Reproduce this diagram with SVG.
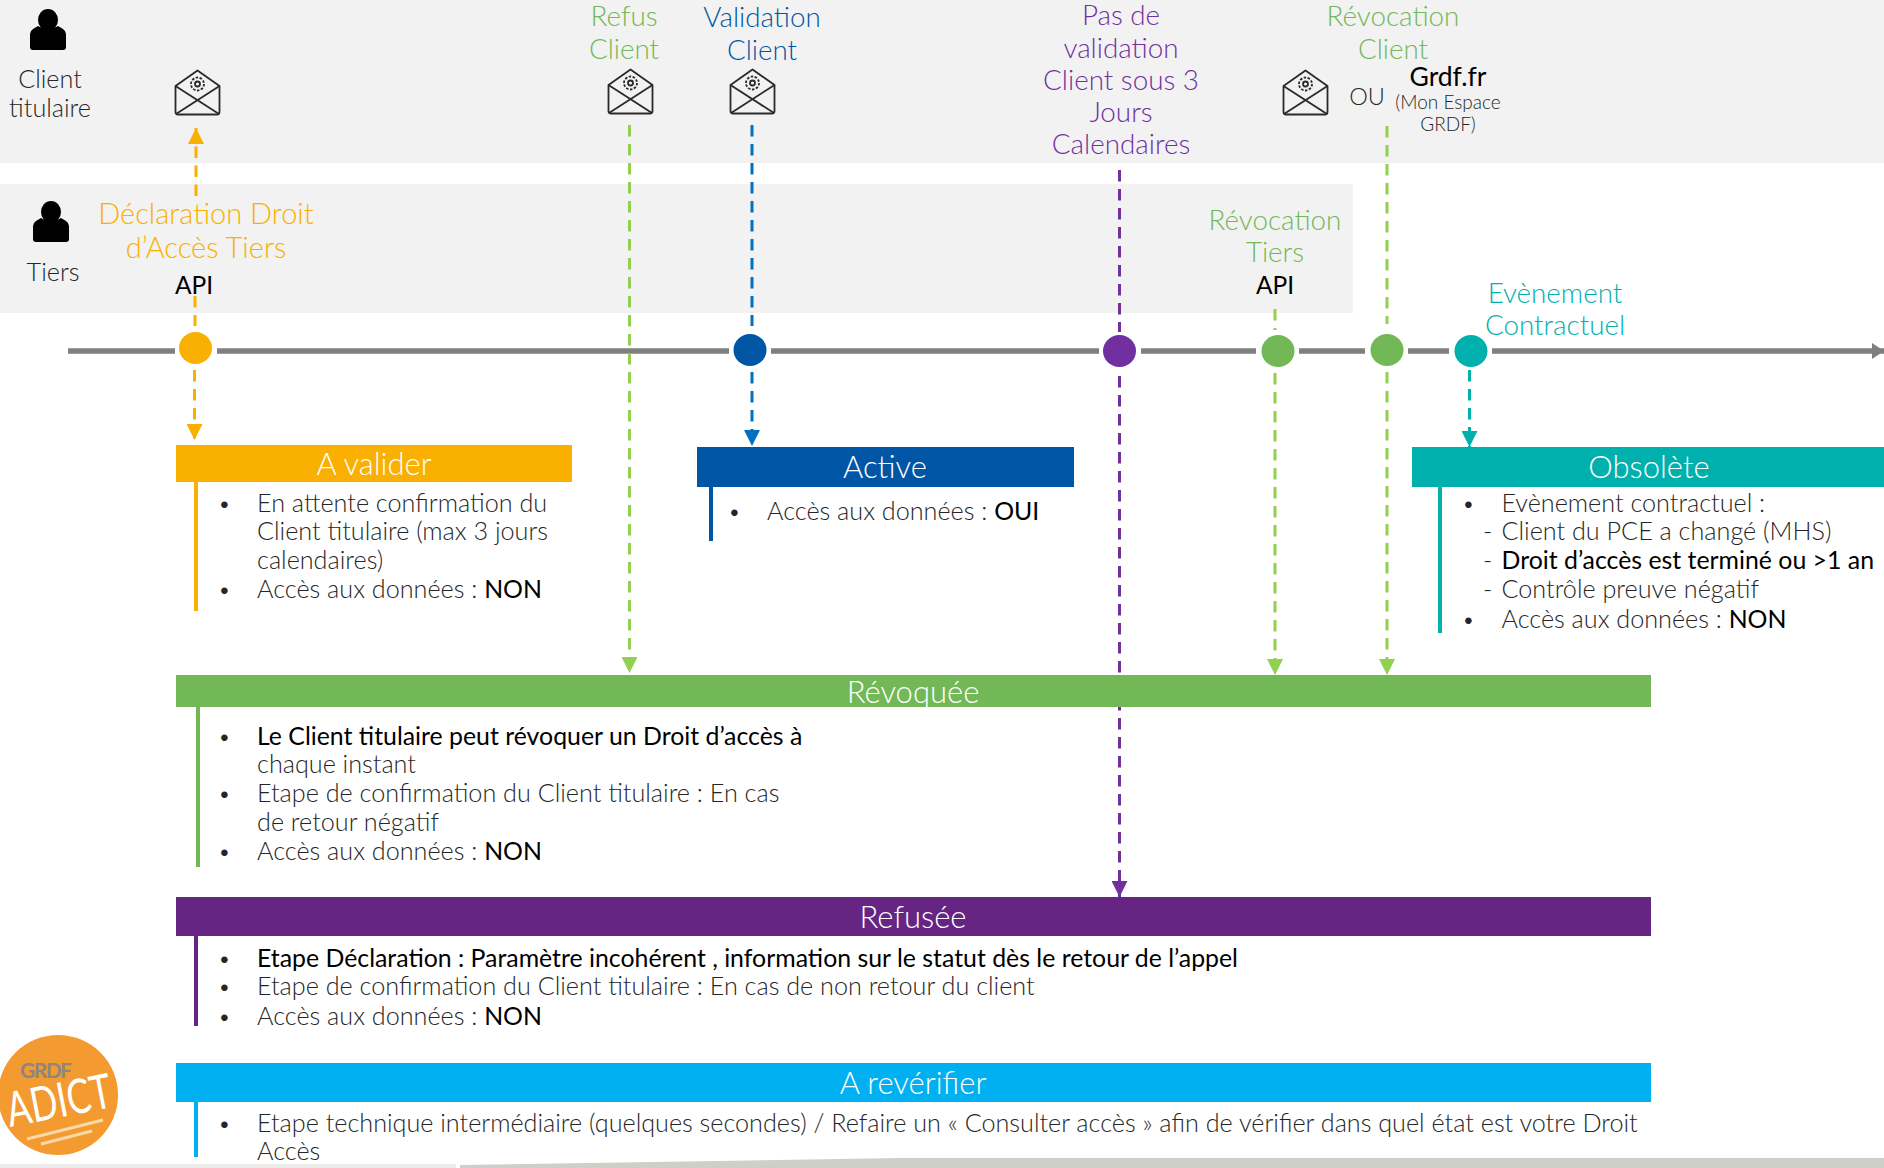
<svg xmlns="http://www.w3.org/2000/svg" width="1884" height="1168" viewBox="0 0 1884 1168">
<style>
text{font-family:"Lato","Open Sans","Liberation Sans",sans-serif;font-weight:300;font-size:25.2px;fill:#262626}
.c{text-anchor:middle}
.lab{font-size:27.8px}
.big{font-size:29px}
.hd{font-size:31px;fill:#fff;text-anchor:middle}
.k{fill:#000;font-weight:400;font-size:24.5px}
.b{fill:#000;font-weight:400;font-size:24.85px}
.dot{font-size:22px}
.s{font-size:19px}
.d{fill:none;stroke-width:3;stroke-dasharray:11.5 7.5}
.ya{fill:#f9b000}.bl{fill:#0055a4}.pu{fill:#7030a0}.gr{fill:#72b857}.te{fill:#00b0ad}
.env{fill:none;stroke:#2a2a2a;stroke-width:1.8;stroke-linejoin:round}
</style>
<defs>
<marker id="aY" markerUnits="userSpaceOnUse" markerWidth="16" markerHeight="16" refX="16" refY="8" orient="auto"><path d="M0 0L16 8L0 16z" fill="#f9b000"/></marker>
<marker id="aG" markerUnits="userSpaceOnUse" markerWidth="16" markerHeight="16" refX="16" refY="8" orient="auto"><path d="M0 0L16 8L0 16z" fill="#92d050"/></marker>
<marker id="aB" markerUnits="userSpaceOnUse" markerWidth="16" markerHeight="16" refX="16" refY="8" orient="auto"><path d="M0 0L16 8L0 16z" fill="#0070c0"/></marker>
<marker id="aP" markerUnits="userSpaceOnUse" markerWidth="16" markerHeight="16" refX="16" refY="8" orient="auto"><path d="M0 0L16 8L0 16z" fill="#7030a0"/></marker>
<marker id="aT" markerUnits="userSpaceOnUse" markerWidth="16" markerHeight="16" refX="16" refY="8" orient="auto"><path d="M0 0L16 8L0 16z" fill="#00b0ad"/></marker>
<marker id="aK" markerUnits="userSpaceOnUse" markerWidth="12" markerHeight="16" refX="12" refY="8" orient="auto"><path d="M0 0L12 8L0 16z" fill="#7f7f7f"/></marker>
<symbol id="person" viewBox="0 0 36 41" overflow="visible"><ellipse cx="18" cy="11" rx="10" ry="11" fill="#000"/><path d="M14 18H22V25H14z" fill="#000"/><path d="M3 20L8 17Q18 24 28 17L33 20Q36 22 36 25V38Q36 41 33 41H3Q0 41 0 38V25Q0 22 3 20z" fill="#000"/></symbol>
<symbol id="mail" viewBox="0 0 45 45" overflow="visible"><path class="env" d="M0.500 16L22.500 0.500L44.500 16V42Q44.500 44.500 42 44.500H3Q0.500 44.500 0.500 42z"/><path class="env" d="M0.500 16L44 44M44.500 16L1 44"/><circle class="env" cx="22.500" cy="14" r="6.500" stroke-dasharray="2.500 1.500"/><circle class="env" cx="22.500" cy="14" r="2.500"/></symbol>
</defs>
<rect width="1884" height="1168" fill="#fff"/>
<g id="bands"><rect x="0" y="0" width="1884" height="163" fill="#f2f2f2"/><rect x="0" y="184" width="1353" height="129" fill="#f2f2f2"/></g>
<g id="footer"><rect x="0" y="1164" width="456" height="4" fill="#ececea"/><path d="M460 1168V1165L900 1158H1884V1168z" fill="#cfcfc9"/></g>
<g id="connectors">
<path d="M68 351H175M217 351H729M771 351H1099M1141 351H1256M1299 351H1365M1408 351H1449M1492 351H1884" fill="none" stroke="#7f7f7f" stroke-width="5.500" marker-end="url(#aK)"/>
<path class="d" stroke="#f9b000" d="M196 196V128" marker-end="url(#aY)"/>
<path class="d" stroke="#f9b000" d="M195 296V326"/>
<path class="d" stroke="#f9b000" d="M194.500 370V440" marker-end="url(#aY)"/>
<path class="d" stroke="#92d050" d="M629.500 125V673" marker-end="url(#aG)"/>
<path class="d" stroke="#0070c0" d="M752 125V326"/>
<path class="d" stroke="#0070c0" d="M752 372V446" marker-end="url(#aB)"/>
<path class="d" stroke="#7030a0" d="M1119.500 170V332"/>
<path class="d" stroke="#7030a0" d="M1119.500 376V897" marker-end="url(#aP)"/>
<path class="d" stroke="#92d050" d="M1275 309V330"/>
<path class="d" stroke="#92d050" d="M1275 373V675" marker-end="url(#aG)"/>
<path class="d" stroke="#92d050" d="M1387 126V324"/>
<path class="d" stroke="#92d050" d="M1387 372V675" marker-end="url(#aG)"/>
<path class="d" stroke="#00b0ad" d="M1469.500 370V447" marker-end="url(#aT)"/>
</g>
<g id="actor-client"><use href="#person" x="30" y="9" width="36" height="41"/><text class="c" x="50" y="87.500">Client</text><text class="c" x="50" y="116.500">titulaire</text></g>
<g id="actor-tiers"><use href="#person" x="33" y="201" width="36" height="41"/><text class="c" x="53" y="280.500">Tiers</text></g>
<g id="mail-1"><use href="#mail" x="175" y="70" width="45" height="45"/></g>
<g id="mail-2"><use href="#mail" x="608" y="69" width="45" height="45"/></g>
<g id="mail-3"><use href="#mail" x="730" y="69" width="45" height="45"/></g>
<g id="mail-4"><use href="#mail" x="1283" y="70" width="45" height="45"/></g>
<g id="step-declaration"><text class="c big ya" x="206" y="224">Déclaration Droit</text><text class="c big ya" x="206" y="258">d’Accès Tiers</text><text class="c k" x="194" y="293.500">API</text><ellipse class="ya" cx="195.500" cy="348" rx="16.500" ry="16"/></g>
<g id="step-refus"><text class="c lab gr" x="624" y="26">Refus</text><text class="c lab gr" x="624" y="58.500">Client</text></g>
<g id="step-validation"><text class="c lab bl" x="762" y="27">Validation</text><text class="c lab bl" x="762" y="59.500">Client</text><ellipse class="bl" cx="750" cy="350" rx="16.500" ry="16"/></g>
<g id="step-pas-validation"><text class="c lab pu" x="1121" y="25">Pas de</text><text class="c lab pu" x="1121" y="57.500">validation</text><text class="c lab pu" x="1121" y="89.500">Client sous 3</text><text class="c lab pu" x="1121" y="121.500">Jours</text><text class="c lab pu" x="1121" y="153.500">Calendaires</text><ellipse class="pu" cx="1119.500" cy="351" rx="16.500" ry="16"/></g>
<g id="step-rev-client"><text class="c lab gr" x="1393" y="26">Révocation</text><text class="c lab gr" x="1393" y="58.500">Client</text><text class="c" x="1367" y="105" style="font-size:23.500px">OU</text><text class="c k" x="1448" y="86" style="font-size:26.500px">Grdf.fr</text><text class="c s" x="1448" y="109">(Mon Espace</text><text class="c s" x="1448" y="131">GRDF)</text><ellipse class="gr" cx="1387" cy="350" rx="16.500" ry="16"/></g>
<g id="step-rev-tiers"><text class="c lab gr" x="1275" y="229.500">Révocation</text><text class="c lab gr" x="1275" y="261.500">Tiers</text><text class="c k" x="1275" y="293.500">API</text><ellipse class="gr" cx="1278" cy="351" rx="16.500" ry="16"/></g>
<g id="step-evenement"><text class="c lab te" x="1555" y="302.500">Evènement</text><text class="c lab te" x="1555" y="334.500">Contractuel</text><ellipse class="te" cx="1471" cy="351" rx="16.500" ry="16"/></g>
<g id="state-valider"><rect x="176" y="445" width="396" height="37" fill="#f9b000"/><rect x="194" y="482" width="4" height="129" fill="#f9b000"/><text class="hd" x="374" y="475">A valider</text>
<text class="dot" x="218" y="511">•</text><text x="257" y="511.500">En attente confirmation du</text><text x="257" y="540">Client titulaire (max 3 jours</text><text x="257" y="568.500">calendaires)</text><text class="dot" x="218" y="597">•</text><text x="257" y="597.500">Accès aux données : <tspan class="b">NON</tspan></text></g>
<g id="state-active"><rect x="697" y="447" width="377" height="40" fill="#0055a4"/><rect x="709" y="487" width="4" height="54" fill="#0055a4"/><text class="hd" x="885" y="478">Active</text>
<text class="dot" x="728" y="519">•</text><text x="767" y="519.500">Accès aux données : <tspan class="b">OUI</tspan></text></g>
<g id="state-obsolete"><rect x="1412" y="447" width="472" height="40" fill="#00b0ad"/><rect x="1438" y="487" width="4" height="146" fill="#00b0ad"/><text class="hd" x="1649" y="478">Obsolète</text>
<text class="dot" x="1462" y="511">•</text><text x="1501.500" y="511.500">Evènement contractuel :</text><text x="1483" y="540">-</text><text x="1501.500" y="540">Client du PCE a changé (MHS)</text><text x="1483" y="569">-</text><text class="b" x="1501.500" y="569">Droit d’accès est terminé ou &gt;1 an</text><text x="1483" y="598">-</text><text x="1501.500" y="598">Contrôle preuve négatif</text><text class="dot" x="1462" y="627">•</text><text x="1501.500" y="627.500">Accès aux données : <tspan class="b">NON</tspan></text></g>
<g id="state-revoquee"><rect x="176" y="675" width="1475" height="32" fill="#72b857"/><rect x="196" y="707" width="4" height="160" fill="#72b857"/><text class="hd" x="913" y="703">Révoquée</text>
<text class="dot" x="218" y="744">•</text><text class="b" x="257" y="744.500">Le Client titulaire peut révoquer un Droit d’accès à</text><text x="257" y="773">chaque instant</text><text class="dot" x="218" y="801">•</text><text x="257" y="801.500">Etape de confirmation du Client titulaire : En cas</text><text x="257" y="830.500">de retour négatif</text><text class="dot" x="218" y="859">•</text><text x="257" y="859.500">Accès aux données : <tspan class="b">NON</tspan></text></g>
<g id="state-refusee"><rect x="176" y="897" width="1475" height="39" fill="#662483"/><rect x="194" y="936" width="4" height="90" fill="#662483"/><text class="hd" x="913" y="928">Refusée</text>
<text class="dot" x="218" y="966">•</text><text class="b" x="257" y="966.500">Etape Déclaration : Paramètre incohérent , information sur le statut dès le retour de l’appel</text><text class="dot" x="218" y="994">•</text><text x="257" y="994.500">Etape de confirmation du Client titulaire : En cas de non retour du client</text><text class="dot" x="218" y="1024">•</text><text x="257" y="1024.500">Accès aux données : <tspan class="b">NON</tspan></text></g>
<g id="state-reverifier"><rect x="176" y="1063" width="1475" height="39" fill="#00b0f0"/><rect x="194" y="1102" width="4" height="55" fill="#00b0f0"/><text class="hd" x="913" y="1094">A revérifier</text>
<text class="dot" x="218" y="1131">•</text><text x="257" y="1131.500">Etape technique intermédiaire (quelques secondes) / Refaire un « Consulter accès » afin de vérifier dans quel état est votre Droit</text><text x="257" y="1160">Accès</text></g>
<g id="logo"><ellipse cx="58" cy="1095" rx="60" ry="60" fill="#f39a30"/><text x="20" y="1078" style="font-size:21px;fill:#8f8480;font-weight:700" textLength="52">GRDF</text><text x="10" y="1127" transform="rotate(-11 10 1127)" style="font-size:48px;fill:#fff;font-weight:400" textLength="106" lengthAdjust="spacingAndGlyphs">ADICT</text><path d="M27 1139L103 1120M41 1144L92 1131" stroke="#f9d9a8" stroke-width="3" fill="none"/></g>
</svg>
